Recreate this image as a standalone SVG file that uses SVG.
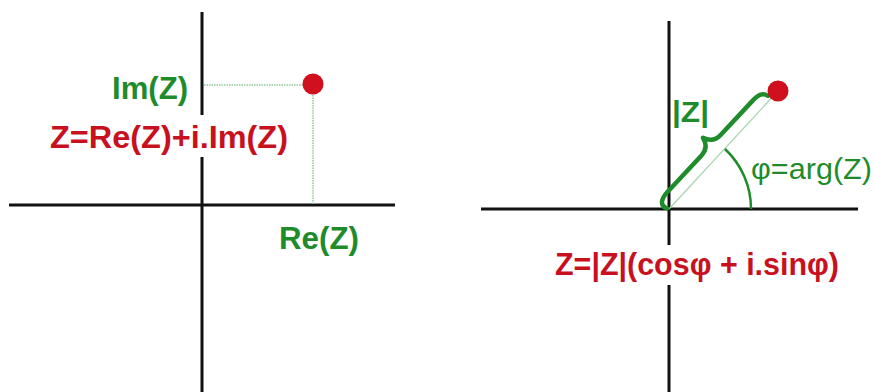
<svg xmlns="http://www.w3.org/2000/svg" width="875" height="392" viewBox="0 0 875 392">
<style>
.axis{stroke:#111;stroke-width:3;fill:none}
.dot{fill:#d0101c}
.guide{stroke:#8fc99a;stroke-width:1.5;fill:none;stroke-dasharray:1.5 1}
.thin{stroke:#a8d5b0;stroke-width:1.3;fill:none}
.gtxt{font-family:"Liberation Sans",Arial,sans-serif;font-weight:bold;fill:#1f8c2c}
.gtxtn{font-family:"Liberation Sans",Arial,sans-serif;fill:#1f8c2c}
.rtxt{font-family:"Liberation Sans",Arial,sans-serif;font-weight:bold;fill:#c8101e}
.brace{stroke:#1f8c2c;stroke-width:4.5;fill:none;stroke-linecap:round;stroke-linejoin:round}
.arc{stroke:#1f8c2c;stroke-width:2.5;fill:none}
</style>
<rect width="875" height="392" fill="#fff"/>
<g id="connectors">
<path class="axis" d="M202,12V115M202,157V392"/>
<path class="axis" d="M9,205H395"/>
<path class="axis" d="M669,21V245M669,285V392"/>
<path class="axis" d="M481,209H858"/>
<path class="guide" d="M204,85H303M313,95V204"/>
<path class="thin" d="M669,209L778,91"/>
<path class="arc" d="M751,209A82,82 0 0 0 725,149"/>
<path class="brace" transform="translate(668,209) rotate(-47)" d="M0,-1 C-4,-9 4,-12 12,-12 L62,-12 C70,-12 74,-16 76,-23 C78,-16 82,-12 90,-12 L136,-12 C146,-12 150,-10 151,-4"/>
</g>
<g id="point-left"><circle class="dot" cx="313" cy="84" r="10.5"/></g>
<g id="point-right"><circle class="dot" cx="778" cy="91" r="10.5"/></g>
<g id="label-im"><text class="gtxt" x="112" y="99" font-size="31" textLength="76" lengthAdjust="spacingAndGlyphs">Im(Z)</text></g>
<g id="label-algebraic"><text class="rtxt" x="50" y="148" font-size="31" textLength="238" lengthAdjust="spacingAndGlyphs">Z=Re(Z)+i.Im(Z)</text></g>
<g id="label-re"><text class="gtxt" x="279" y="249" font-size="31" textLength="80" lengthAdjust="spacingAndGlyphs">Re(Z)</text></g>
<g id="label-mod"><text class="gtxt" x="672" y="122" font-size="30" textLength="37" lengthAdjust="spacingAndGlyphs">|Z|</text></g>
<g id="label-arg"><text class="gtxtn" x="751" y="179" font-size="29" textLength="121" lengthAdjust="spacingAndGlyphs">φ=arg(Z)</text></g>
<g id="label-polar"><text class="rtxt" x="555" y="275" font-size="31" textLength="284" lengthAdjust="spacingAndGlyphs">Z=|Z|(cosφ + i.sinφ)</text></g>
</svg>
